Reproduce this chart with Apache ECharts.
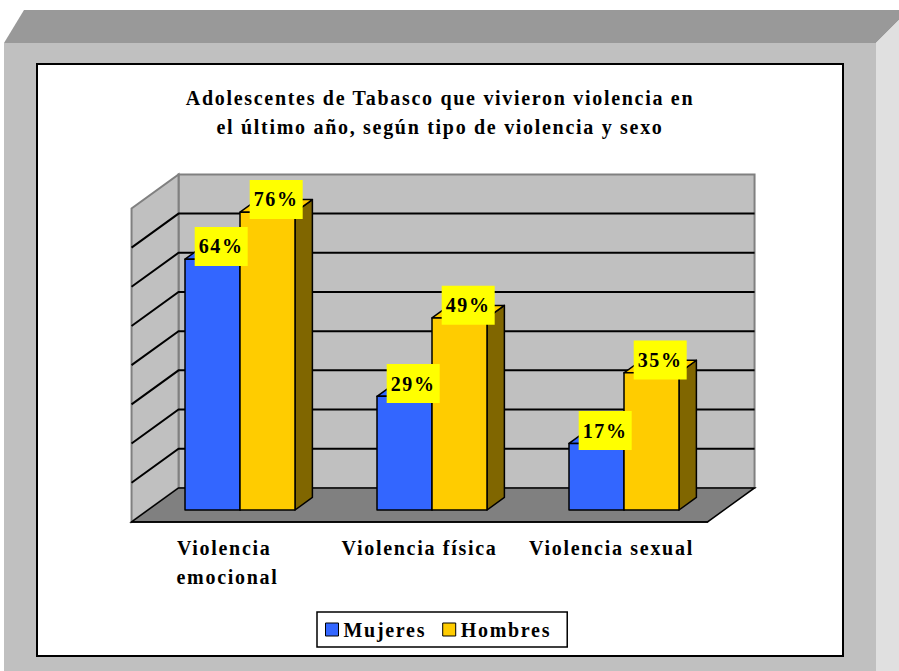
<!DOCTYPE html>
<html>
<head>
<meta charset="utf-8">
<script src="https://cdn.jsdelivr.net/npm/echarts@6/dist/echarts.min.js"></script>
<style>
html,body{margin:0;padding:0;background:#fff;}
#chart{width:899px;height:671px;}
#chart text{letter-spacing:1.7px;}
</style>
</head>
<body>
<div id="chart"></div>
<script>
// ---- data ----
const categories = ['Violencia emocional', 'Violencia física', 'Violencia sexual'];
const seriesNames = ['Mujeres', 'Hombres'];
const mujeres = [64, 29, 17];
const hombres = [76, 49, 35];
const yMin = 0;
const yMax = 80;
const yInterval = 10;
const titleLines = ['Adolescentes de Tabasco que vivieron violencia en', 'el último año, según tipo de violencia y sexo'];

// ---- style / geometry ----
const FONT = '"Liberation Serif", "Times New Roman", serif';
const FS = 20;
const DEPTH = [47, -34];      // full depth vector of the 3D box
const BAR_PLANE = 0.35;       // bar front plane, as fraction of depth from front edge
const BAR_DEPTH = 0.37;       // bar depth as fraction of full depth
const BAR_W = 55, BAR_SHIFT = 4;
const bx = DEPTH[0] * (1 - BAR_PLANE), by = DEPTH[1] * (1 - BAR_PLANE);
const fx = -DEPTH[0] * BAR_PLANE, fy = -DEPTH[1] * BAR_PLANE;
const dx = DEPTH[0] * BAR_DEPTH, dy = DEPTH[1] * BAR_DEPTH;

const chart = echarts.init(document.getElementById('chart'), null, {renderer: 'svg'});

function wallsRender(params, api) {
  const cs = params.coordSys;
  const x0 = cs.x, x1 = cs.x + cs.width, yT = cs.y, yB = cs.y + cs.height;
  const ch = [];
  ch.push({type: 'polygon', shape: {points: [[x0 + bx, yT + by], [x1 + bx, yT + by], [x1 + bx, yB + by], [x0 + bx, yB + by]]},
    style: {fill: '#c0c0c0', stroke: '#808080', lineWidth: 2}});
  ch.push({type: 'polygon', shape: {points: [[x0 + fx, yB + fy], [x0 + fx, yT + fy], [x0 + bx, yT + by], [x0 + bx, yB + by]]},
    style: {fill: '#c0c0c0', stroke: '#808080', lineWidth: 2}});
  for (let v = yMin + yInterval; v < yMax; v += yInterval) {
    const y = api.coord([0, v])[1];
    ch.push({type: 'polyline', shape: {points: [[x0 + fx, y + fy], [x0 + bx, y + by], [x1 + bx, y + by]]},
      style: {stroke: '#000', lineWidth: 2, fill: null}});
  }
  ch.push({type: 'polygon', shape: {points: [[x0 + fx, yB + fy], [x1 + fx, yB + fy], [x1 + bx, yB + by], [x0 + bx, yB + by]]},
    style: {fill: '#808080', stroke: '#000', lineWidth: 1.5}});
  return {type: 'group', children: ch};
}

function barRender(seriesIdx, front, topC, side) {
  return function (params, api) {
    const i = api.value(0), v = api.value(1);
    const top = api.coord([i, v]), base = api.coord([i, 0]);
    const xs = top[0] - BAR_SHIFT - (seriesIdx === 0 ? BAR_W : 0);
    const xe = xs + BAR_W;
    const yt = top[1], yb = base[1];
    const st = {stroke: '#000', lineWidth: 1.5, lineJoin: 'round'};
    return {type: 'group', children: [
      {type: 'polygon', shape: {points: [[xe, yt], [xe + dx, yt + dy], [xe + dx, yb + dy], [xe, yb]]},
        style: Object.assign({fill: side}, st)},
      {type: 'polygon', shape: {points: [[xs, yt], [xe, yt], [xe + dx, yt + dy], [xs + dx, yt + dy]]},
        style: Object.assign({fill: topC}, st)},
      {type: 'rect', shape: {x: xs, y: yt, width: BAR_W, height: yb - yt},
        style: Object.assign({fill: front}, st)},
      {type: 'text', z2: 100, style: {
        text: v + '%', x: xs + BAR_W / 2 + dx / 2, y: yt + dy / 2 - 6.5,
        align: 'center', verticalAlign: 'middle',
        fontFamily: FONT, fontSize: FS, fontWeight: 'bold', lineHeight: 20,
        fill: '#000', backgroundColor: '#ffff00', padding: [9.5, 6.5]
      }}
    ]};
  };
}

const option = {
  animation: false,
  backgroundColor: '#ffffff',
  graphic: [
    {type: 'polygon', z: -10, shape: {points: [[24, 10], [899, 10], [899, 20], [876, 43], [4, 43]]}, style: {fill: '#999999'}},
    {type: 'rect', z: -10, shape: {x: 4, y: 43, width: 872, height: 628}, style: {fill: '#c0c0c0'}},
    {type: 'polygon', z: -10, shape: {points: [[876, 43], [899, 20], [899, 671], [876, 671]]}, style: {fill: '#e0e0e0'}},
    {type: 'rect', z: -9, shape: {x: 37, y: 64, width: 806, height: 592}, style: {fill: '#ffffff', stroke: '#000', lineWidth: 2}}
  ],
  title: {
    text: titleLines.join('\n'), left: 440, top: 83, textAlign: 'center', padding: 0,
    textStyle: {fontFamily: FONT, fontSize: FS, fontWeight: 'bold', color: '#000', lineHeight: 29}
  },
  legend: {
    data: seriesNames, left: 317, top: 612, orient: 'horizontal',
    itemWidth: 13, itemHeight: 13, itemGap: 28, icon: 'rect',
    padding: [7.5, 28, 7.5, 8], borderColor: '#000', borderWidth: 1.5,
    textStyle: {fontFamily: FONT, fontSize: FS, fontWeight: 'bold', color: '#000', lineHeight: 20},
    itemStyle: {borderColor: '#000', borderWidth: 1}
  },
  grid: [
    {left: 148, width: 576, top: 196.5, height: 313.5},
    {left: 131.5, width: 576, top: 208.5, height: 313.5}
  ],
  xAxis: [
    {gridIndex: 0, type: 'category', data: categories, show: false},
    {gridIndex: 1, type: 'category', data: categories, z: 3,
      axisLine: {lineStyle: {color: '#000', width: 1.5}},
      axisTick: {length: 7, lineStyle: {color: '#000', width: 1.5}},
      axisLabel: {interval: 0, fontFamily: FONT, fontSize: FS, fontWeight: 'bold', color: '#000',
        lineHeight: 29, margin: 11, width: 155, overflow: 'break'}}
  ],
  yAxis: [
    {gridIndex: 0, type: 'value', min: yMin, max: yMax, interval: yInterval, show: false},
    {gridIndex: 1, type: 'value', min: yMin, max: yMax, interval: yInterval, show: false}
  ],
  series: [
    {type: 'custom', silent: true, xAxisIndex: 0, yAxisIndex: 0, data: [[0, 0]], renderItem: wallsRender, z: 1},
    {name: seriesNames[0], type: 'custom', xAxisIndex: 0, yAxisIndex: 0, z: 2,
      itemStyle: {color: '#3366ff'},
      data: mujeres.map((v, i) => [i, v]), encode: {x: 0, y: 1},
      renderItem: barRender(0, '#3366ff', '#3366ff', '#1a3380')},
    {name: seriesNames[1], type: 'custom', xAxisIndex: 0, yAxisIndex: 0, z: 2,
      itemStyle: {color: '#ffcc00'},
      data: hombres.map((v, i) => [i, v]), encode: {x: 0, y: 1},
      renderItem: barRender(1, '#ffcc00', '#ffcc00', '#806600')}
  ]
};
chart.setOption(option);
</script>
</body>
</html>
